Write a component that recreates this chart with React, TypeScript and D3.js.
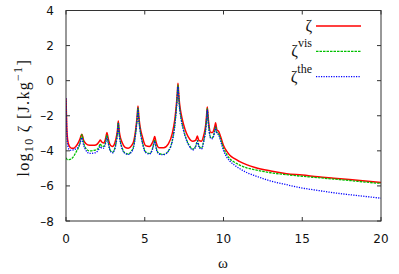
import * as d3 from "d3";

// frequency grid (shared by the three curves)
const omega = [
  0, 0.05, 0.1, 0.2, 0.35, 0.5, 0.65, 0.8, 0.9, 0.95,
  1.0, 1.05, 1.1, 1.25, 1.5, 1.8, 2.0, 2.1, 2.18, 2.27,
  2.38, 2.5, 2.55, 2.6, 2.65, 2.7, 2.82, 2.95, 3.1, 3.22,
  3.27, 3.32, 3.37, 3.42, 3.55, 3.75, 3.95, 4.15, 4.3, 4.45,
  4.52, 4.57, 4.62, 4.69, 4.85, 5.05, 5.3, 5.48, 5.58, 5.63,
  5.68, 5.75, 5.9, 6.2, 6.5, 6.75, 6.91, 7.01, 7.06, 7.11,
  7.16, 7.21, 7.31, 7.45, 7.65, 7.87, 8.05, 8.22, 8.29, 8.34,
  8.39, 8.45, 8.6, 8.75, 8.88, 8.92, 8.97, 9.02, 9.06, 9.2,
  9.3, 9.42, 9.46, 9.5, 9.54, 9.58, 9.7, 9.82, 10.0, 10.2,
  10.4, 10.7, 11.0, 11.5, 12.0, 13.0, 14.0, 15.0, 16.0, 17.0,
  18.0, 19.0, 20.0,
];

// log10 of the total, viscous and thermal parts
const zetaTotal = [
  -1.0, -2.7, -3.35, -3.72, -3.85, -3.85, -3.72, -3.5, -3.3, -3.15,
  -3.05, -3.15, -3.35, -3.58, -3.68, -3.68, -3.6, -3.48, -3.38, -3.5,
  -3.55, -3.35, -3.15, -2.95, -3.15, -3.38, -3.68, -3.75, -3.55, -3.1,
  -2.8, -2.3, -2.8, -3.1, -3.5, -3.8, -3.85, -3.72, -3.45, -2.6,
  -2.0, -1.45, -2.0, -2.55, -3.2, -3.7, -3.75, -3.55, -3.32, -3.18,
  -3.35, -3.6, -3.82, -3.82, -3.6, -3.0, -2.2, -1.35, -0.8, -0.15,
  -0.8, -1.3, -1.9, -2.45, -3.0, -3.35, -3.45, -3.4, -3.28, -3.15,
  -3.3, -3.42, -3.45, -3.1, -2.45, -2.05, -1.5, -2.0, -2.4, -2.95,
  -2.95, -2.7, -2.55, -2.4, -2.6, -2.8, -2.9, -3.2, -3.7, -4.02,
  -4.25, -4.45, -4.6, -4.8, -4.95, -5.15, -5.3, -5.38, -5.48, -5.56,
  -5.64, -5.72, -5.8,
];

const zetaVis = [
  -4.4, -4.47, -4.5, -4.5, -4.45, -4.3, -4.05, -3.8, -3.5, -3.25,
  -3.08, -3.2, -3.45, -3.85, -4.0, -3.97, -3.9, -3.75, -3.6, -3.75,
  -3.75, -3.55, -3.3, -3.1, -3.35, -3.6, -3.98, -4.08, -3.85, -3.3,
  -2.95, -2.4, -2.95, -3.3, -3.8, -4.12, -4.18, -4.02, -3.7, -2.75,
  -2.15, -1.55, -2.15, -2.7, -3.5, -4.05, -4.15, -3.9, -3.55, -3.38,
  -3.6, -3.9, -4.15, -4.2, -4.0, -3.4, -2.5, -1.55, -0.95, -0.25,
  -0.95, -1.5, -2.15, -2.75, -3.35, -3.75, -3.9, -3.75, -3.55, -3.4,
  -3.55, -3.75, -3.85, -3.4, -2.65, -2.25, -1.6, -2.2, -2.6, -3.25,
  -3.25, -2.95, -2.8, -2.6, -2.8, -2.95, -3.05, -3.35, -3.85, -4.2,
  -4.45, -4.65, -4.8, -4.98, -5.08, -5.25, -5.36, -5.45, -5.53, -5.61,
  -5.69, -5.78, -5.86,
];

const zetaThe = [
  -1.0, -2.9, -3.6, -3.92, -3.97, -3.93, -3.88, -3.75, -3.55, -3.4,
  -3.25, -3.4, -3.6, -3.95, -4.15, -4.12, -4.02, -3.88, -3.75, -3.85,
  -3.85, -3.62, -3.4, -3.2, -3.4, -3.65, -4.02, -4.12, -3.9, -3.35,
  -3.0, -2.45, -3.0, -3.35, -3.85, -4.15, -4.2, -4.08, -3.78, -2.8,
  -2.2, -1.6, -2.2, -2.75, -3.55, -4.1, -4.18, -3.95, -3.6, -3.45,
  -3.65, -3.95, -4.18, -4.22, -4.02, -3.45, -2.55, -1.6, -1.0, -0.35,
  -1.0, -1.55, -2.2, -2.8, -3.4, -3.8, -3.95, -3.8, -3.6, -3.45,
  -3.6, -3.8, -3.9, -3.45, -2.7, -2.3, -1.65, -2.25, -2.65, -3.3,
  -3.3, -3.0, -2.85, -2.65, -2.85, -3.0, -3.1, -3.45, -3.98, -4.35,
  -4.58, -4.82, -5.0, -5.25, -5.42, -5.72, -5.93, -6.12, -6.26, -6.39,
  -6.5, -6.6, -6.7,
];

const xTicks = [0, 5, 10, 15, 20];
const yTicks = [-8, -6, -4, -2, 0, 2, 4];

const series = [
  { key: "total", values: zetaTotal, color: "#ff0000", dash: null, width: 1.5, sup: "" },
  { key: "vis", values: zetaVis, color: "#00c000", dash: "2.5,1", width: 1.3, sup: "vis" },
  { key: "the", values: zetaThe, color: "#0000ff", dash: "1.2,1.3", width: 1.3, sup: "the" },
];

const W = 399;
const H = 274;
const margin = { top: 10.5, right: 18, bottom: 53, left: 66 };

export default function App() {
  const x = d3.scaleLinear().domain([0, 20]).range([margin.left, W - margin.right]);
  const y = d3.scaleLinear().domain([-8, 4]).range([H - margin.bottom, margin.top]);

  const line = (vals: number[]) =>
    d3
      .line<number>()
      .x((_, i) => x(omega[i]))
      .y((d) => y(d))
      .curve(d3.curveMonotoneX)(vals) as string;

  const [x0, x1] = x.range();
  const [y0, y1] = y.range();
  const tickLen = 4;
  const axisColor = "#333";
  const sans = "'DejaVu Sans', sans-serif";
  const serif = "'Liberation Serif', 'DejaVu Serif', serif";

  return (
    <svg
      width={W}
      height={H}
      style={{ position: "absolute", left: 0, top: 0, background: "#fff" }}
    >
      <defs>
        <clipPath id="plot">
          <rect x={x0} y={y1} width={x1 - x0} height={y0 - y1} />
        </clipPath>
      </defs>

      {/* curves */}
      <g clipPath="url(#plot)" fill="none">
        {series.map((s) => (
          <path
            key={s.key}
            d={line(s.values)}
            stroke={s.color}
            strokeWidth={s.width}
            strokeDasharray={s.dash ?? undefined}
            strokeLinejoin="round"
          />
        ))}
      </g>

      {/* frame + ticks */}
      <g stroke={axisColor} strokeWidth={1}>
        <rect x={x0} y={y1} width={x1 - x0} height={y0 - y1} fill="none" />
        {xTicks.map((t) => (
          <g key={"xt" + t}>
            <line x1={x(t)} x2={x(t)} y1={y0} y2={y0 - tickLen} />
            <line x1={x(t)} x2={x(t)} y1={y1} y2={y1 + tickLen} />
          </g>
        ))}
        {yTicks.map((t) => (
          <g key={"yt" + t}>
            <line x1={x0} x2={x0 + tickLen} y1={y(t)} y2={y(t)} />
            <line x1={x1} x2={x1 - tickLen} y1={y(t)} y2={y(t)} />
          </g>
        ))}
      </g>

      {/* tick labels */}
      <g fontFamily={sans} fontSize={12} fill="#111">
        {xTicks.map((t) => (
          <text key={"xl" + t} x={x(t)} y={y0 + 22} textAnchor="middle">
            {t}
          </text>
        ))}
        {yTicks.map((t) => (
          <text key={"yl" + t} x={x0 - 12} y={y(t) + 4.5} textAnchor="end">
            {t < 0 ? "\u2013" + Math.abs(t) : t}
          </text>
        ))}
      </g>

      {/* axis titles */}
      <text x={223} y={268} textAnchor="middle" fontFamily={serif} fontSize={15} fill="#111">
        ω
      </text>
      <text
        transform={`translate(29,${(y0 + y1) / 2 + 2}) rotate(-90)`}
        textAnchor="middle"
        fontFamily={serif}
        fontSize={16}
        letterSpacing={1.3}
        fill="#111"
      >
        log
        <tspan fontSize={12} dy={4}>10</tspan>
        <tspan dy={-4}> ζ [J.kg</tspan>
        <tspan fontSize={12} dy={-7}>−1</tspan>
        <tspan dy={7}>]</tspan>
      </text>

      {/* legend */}
      <g fontFamily={serif} fill="#111">
        {series.map((s, i) => {
          const ly = 26 + i * 25.3;
          return (
            <g key={"lg" + s.key}>
              <line
                x1={316}
                x2={361}
                y1={ly}
                y2={ly}
                stroke={s.color}
                strokeWidth={s.width}
                strokeDasharray={s.dash ?? undefined}
              />
              <text x={312} y={ly + 5} textAnchor="end" fontSize={16}>
                ζ
                {s.sup && (
                  <tspan fontSize={12} dy={-9}>
                    {s.sup}
                  </tspan>
                )}
              </text>
            </g>
          );
        })}
      </g>
    </svg>
  );
}
